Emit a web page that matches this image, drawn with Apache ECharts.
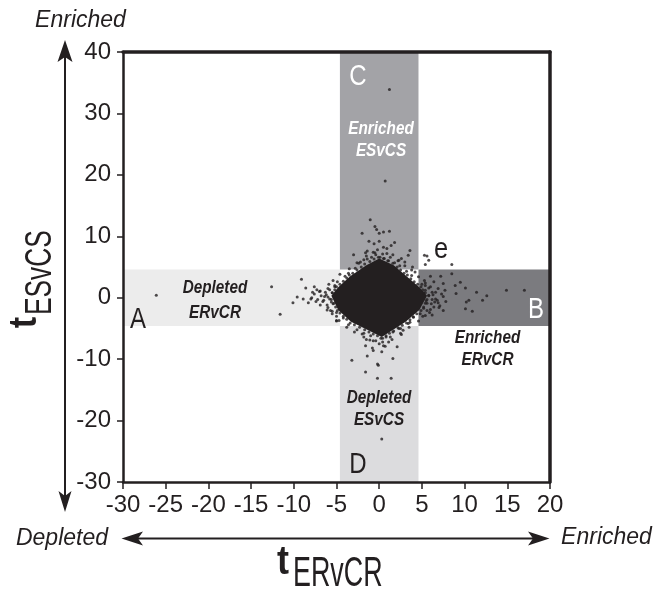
<!DOCTYPE html>
<html>
<head>
<meta charset="utf-8">
<script src="https://cdn.jsdelivr.net/npm/echarts@6/dist/echarts.min.js"></script>
<style>
  html, body { margin: 0; padding: 0; background: #fff; }
  #chart { width: 656px; height: 591px; }
</style>
</head>
<body>
<div id="chart"></div>
<script>
// axis ranges and ticks
const xRange = [-30, 20];
const yRange = [-30, 40];
const xStep = 5;
const yStep = 10;

// significance cut-off used for the shaded bands
const cut = 4.6;
// [xFrom, xTo, yFrom, yTo] for bands A, B, C, D
const bandA = [-30, -cut, -cut, cut];
const bandB = [cut, 20, -cut, cut];
const bandC = [-cut, cut, cut, 40];
const bandD = [-cut, cut, -30, -cut];
const bandColors = ['#ececec', '#7b7b7f', '#a3a3a7', '#dcdcde'];

// outline of the dense (saturated) cloud of points around the origin
const coreOutline = [
  [-5.6, 0.3], [-4.8, 1.7], [-3.4, 3.5], [-1.5, 5.3], [0, 6.4], [1.7, 5.3],
  [3.2, 3.5], [4.7, 1.7], [5.6, 0.3], [4.7, -2.0], [3.1, -3.9], [1.4, -5.4],
  [0.3, -6.4], [-1.1, -5.4], [-3.3, -3.9], [-4.8, -2.0]
];

// single genes
const leftPoints = [
  [-26.1, 0.4], [-12.6, 1.8], [-11.6, -2.7], [-10.1, -0.8], [-9.6, 0.1], [-9.1, 3.0],
  [-8.9, -0.2], [-8.6, 1.6], [-8.3, -0.8], [-7.9, 0], [-7.3, 1.3], [-6.1, -2.0],
  [-5.5, -2.2], [-5.0, -3.0], [-5.2, 2.0], [-5.0, -3.7], [-5.7, -2.1],
  [-7.0, 1.0], [-6.8, 0.3], [-6.5, -0.4], [-6.3, 0.9], [-6.0, 0.1], [-5.8, 1.3],
  [-5.6, -0.7], [-7.4, -0.6], [-6.9, -1.2], [-5.9, 2.2], [-7.6, 1.8], [-8.0, -0.2], [-7.8, 0.9]
];
const upPoints = [
  [1.2, 33.9], [0.7, 19.0], [-1.05, 12.7], [-2.0, 10.5], [-0.5, 11.6], [-0.3, 11.1],
  [0, 10.5], [0.5, 10.7], [1.2, 10.8], [1.8, 9.0], [1.4, 8.5], [-3.0, 7.0], [-1.2, 9.2],
  [-0.6, 8.8], [0, 9.2], [0.5, 8.2], [-1.6, 7.3], [-0.7, 7.4], [3.6, 7.7], [3.4, 6.9],
  [3.0, 5.8], [2.3, 6.1], [0.9, 7.2], [0.1, 6.6], [-1.4, 6.3], [-2.2, 5.8],
  [5.3, 6.9], [5.6, 6.8], [5.8, 6.1], [5.4, 5.4]
];
const rightPoints = [
  [14.9, 1.2], [17.0, 1.2], [12.6, 0.3], [12.1, -0.4], [11.4, 0.9], [10.9, -2.2],
  [10.1, -1.8], [10.5, -0.4], [10.2, -0.7], [10.1, 1.6], [9.5, 2.5], [8.5, 3.9],
  [8.5, 5.4], [8.9, 2.0], [9.0, 0.7], [7.5, 2.3], [7.2, 3.5], [6.0, 3.5], [7.5, 0.2],
  [7.1, -1.3], [7.7, 1.2], [7.5, -2.1], [5.6, -2.1], [6.4, -1.5], [6.8, -0.4],
  [5.2, 0.8], [5.5, -0.5], [5.8, 1.6], [6.1, -1.0], [6.3, 0.5], [6.6, -0.2], [5.4, 2.4],
  [5.9, -2.4], [6.9, 1.5], [7.3, 0.6], [7.8, -0.6], [6.2, -2.8], [5.1, -3.0], [7.0, -1.6]
];
const downPoints = [
  [-3.2, -10.2], [-1.4, -9.5], [-0.1, -11.0], [1.6, -9.9], [-1.6, -12.1], [-0.2, -13.1],
  [1.4, -13.1], [2.1, -8.0], [-0.7, -8.6], [0.3, -8.8], [0.7, -7.9], [-1.6, -7.8],
  [-1.1, -6.9], [-2.0, -5.9], [1.3, -6.4], [2.5, -5.0], [2.8, -5.3], [0, -7.5],
  [-5.0, -3.8], [3.6, -4.0], [0.3, -23.0], [-0.2, -10.8]
];
// loose points hugging the dense core
const edgePoints = [
  [-2.4, 5.6], [-1.8, 6.2], [-0.9, 6.6], [-0.4, 7.0], [0.6, 6.4], [1.1, 6.0], [1.8, 5.7],
  [2.4, 5.2], [-2.8, 4.8], [3.2, 4.3], [-3.6, 4.0], [3.8, 3.6], [2.6, 6.4], [-0.2, 7.8],
  [0.9, 8.0], [-1.4, 7.6], [1.6, 7.0], [3.9, 5.0], [4.2, 4.2], [-4.0, 3.5],
  [5.4, 1.2], [5.8, 0.4], [6.2, -0.3], [5.6, -0.9], [5.2, -1.7], [6.6, 0.9], [5.0, 2.2],
  [4.8, -2.6], [6.0, 1.8], [6.9, -0.8], [5.3, 2.8], [6.4, 2.6],
  [-5.5, 0.8], [-5.8, -0.2], [-5.4, -1.0], [-6.2, 0.5], [-6.6, -0.6], [-5.2, 1.8],
  [-5.0, -2.4], [-6.9, 1.1], [-7.2, -0.3], [-4.9, 2.6], [-6.0, -1.6], [-7.6, 0.6],
  [-2.6, -5.2], [-1.8, -5.8], [-1.0, -6.2], [0.2, -6.6], [0.8, -6.4], [1.6, -5.6],
  [2.3, -5.0], [3.4, -4.2], [-3.6, -4.4], [-0.4, -7.0], [1.1, -7.2], [-1.5, -6.8],
  [0.5, -7.8], [4.0, -3.2], [-4.2, -3.3], [2.6, -6.0], [-0.8, -8.2]
];
// points sitting right on the rim of the core, so its edge looks ragged
const rimPoints = [
  [-5.5, 0.8], [-5.2, 1.3], [-5.0, 1.8], [-4.6, 2.2], [-4.2, 2.7], [-3.8, 3.2], [-3.5, 3.7],
  [-3.1, 4.0], [-2.6, 4.5], [-2.1, 5.0], [-1.7, 5.5], [-1.1, 5.9], [-0.6, 6.3], [-0.1, 6.6],
  [0.5, 6.4], [1.0, 6.0], [1.6, 5.6], [2.1, 5.0], [2.5, 4.5], [2.9, 4.0], [3.3, 3.7],
  [3.7, 3.1], [4.1, 2.6], [4.5, 2.2], [4.9, 1.8], [5.1, 1.3], [5.4, 0.8], [5.8, 0.3],
  [5.6, -0.3], [5.4, -0.9], [5.2, -1.5], [4.9, -2.1], [4.4, -2.6], [4.0, -3.1], [3.6, -3.6],
  [3.2, -4.1], [2.7, -4.5], [2.2, -4.9], [1.7, -5.4], [1.2, -5.8], [0.8, -6.2], [0.4, -6.6],
  [-0.2, -6.2], [-0.7, -5.9], [-1.2, -5.6], [-1.7, -5.2], [-2.3, -4.8], [-2.9, -4.4],
  [-3.4, -4.1], [-3.8, -3.5], [-4.2, -3.0], [-4.6, -2.5], [-4.9, -2.1], [-5.1, -1.5],
  [-5.3, -0.9], [-5.6, -0.3]
];
// second, looser ring just outside the rim
const ringPoints = [
  [-6.0, 1.5], [-5.4, 2.8], [-4.6, 3.8], [-3.5, 4.7], [-2.6, 5.7], [-1.5, 6.8], [-0.5, 7.3],
  [0.4, 7.1], [1.3, 6.6], [2.2, 6.0], [3.0, 5.2], [3.8, 4.5], [4.6, 3.4], [5.4, 2.0],
  [6.2, 0.9], [6.5, -0.7], [6.0, -1.9], [5.4, -2.9], [4.6, -3.8], [3.5, -4.8], [2.5, -5.8],
  [1.5, -6.8], [0.4, -7.2], [-0.7, -7.0], [-1.8, -6.4], [-2.9, -5.6], [-3.8, -4.8],
  [-4.7, -3.7], [-5.5, -2.6], [-6.1, -1.2], [-6.4, 0.2]
];

const ink = '#231f20';
const font = 'Liberation Sans, Arial, Helvetica, sans-serif';
const chart = echarts.init(document.getElementById('chart'));

function txt(x, y, text, o) {
  o = o || {};
  return {
    type: 'text', x: x, y: y, rotation: o.rotation || 0,
    scaleX: o.scaleX || 1, z: 50,
    style: {
      text: text, fill: o.color || ink, align: o.align || 'center', verticalAlign: 'middle',
      font: (o.style || '') + ' ' + (o.weight || 'normal') + ' ' + (o.size || 20) + 'px ' + font,
      lineHeight: o.lh || undefined
    }
  };
}
function poly(pts) {
  return { type: 'polygon', shape: { points: pts }, style: { fill: ink }, z: 50 };
}
function line(x1, y1, x2, y2) {
  return { type: 'line', shape: { x1: x1, y1: y1, x2: x2, y2: y2 }, style: { stroke: ink, lineWidth: 2 }, z: 50 };
}

const axisCommon = {
  type: 'value', z: 5,
  splitLine: { show: false },
  axisLine: { show: true, onZero: false, lineStyle: { color: ink, width: 2.5 } }
};

chart.setOption({
  animation: false,
  backgroundColor: '#fff',
  grid: { left: 123, right: 106, top: 52, bottom: 109 },
  xAxis: [
    Object.assign({}, axisCommon, {
      min: xRange[0], max: xRange[1], interval: xStep, position: 'bottom',
      axisTick: { show: true, inside: false, length: 7, lineStyle: { color: ink, width: 1.5 } },
      axisLabel: { fontSize: 24, color: ink, margin: 11, fontFamily: font }
    }),
    Object.assign({}, axisCommon, {
      min: xRange[0], max: xRange[1], position: 'top',
      axisTick: { show: false }, axisLabel: { show: false },
      axisLine: { show: true, onZero: false, lineStyle: { color: ink, width: 3.5 } }
    })
  ],
  yAxis: [
    Object.assign({}, axisCommon, {
      min: yRange[0], max: yRange[1], interval: yStep, position: 'left',
      axisTick: { show: true, inside: false, length: 6, lineStyle: { color: ink, width: 1.5 } },
      axisLabel: { fontSize: 24, color: ink, margin: 12, fontFamily: font }
    }),
    Object.assign({}, axisCommon, {
      min: yRange[0], max: yRange[1], position: 'right',
      axisTick: { show: false }, axisLabel: { show: false },
      axisLine: { show: true, onZero: false, lineStyle: { color: ink, width: 3.5 } }
    })
  ],
  series: [
    {
      type: 'custom', z: 1, silent: true,
      data: [bandA, bandB, bandC, bandD],
      renderItem: function (params, api) {
        const p0 = api.coord([api.value(0), api.value(3)]);
        const p1 = api.coord([api.value(1), api.value(2)]);
        return {
          type: 'rect',
          shape: { x: p0[0], y: p0[1], width: p1[0] - p0[0], height: p1[1] - p0[1] },
          style: { fill: bandColors[params.dataIndex] }
        };
      }
    },
    {
      type: 'custom', z: 3, silent: true,
      data: [[0, 0]],
      renderItem: function (params, api) {
        return {
          type: 'polygon',
          shape: { points: coreOutline.map(function (p) { return api.coord(p); }) },
          style: { fill: ink }
        };
      }
    },
    {
      type: 'scatter', z: 3, silent: true,
      symbolSize: 3,
      itemStyle: { color: ink },
      data: leftPoints.concat(upPoints, rightPoints, downPoints, edgePoints, rimPoints, ringPoints)
    }
  ],
  graphic: [
    // axis direction arrows
    line(65, 55, 65, 497),
    poly([[65, 40], [57.5, 62], [65, 57], [72.5, 62]]),
    poly([[65, 512], [58.5, 491], [65, 496], [71.5, 491]]),
    line(136, 538.5, 535, 538.5),
    poly([[121.5, 538.5], [143, 531.5], [138, 538.5], [143, 545.5]]),
    poly([[549.5, 538.5], [528, 531.5], [533, 538.5], [528, 545.5]]),
    txt(80.5, 21, 'Enriched', { style: 'italic', size: 23 }),
    txt(62, 539, 'Depleted', { style: 'italic', size: 23 }),
    txt(606.5, 538, 'Enriched', { style: 'italic', size: 23 }),
    // axis titles
    txt(283, 563, 't', { weight: 'bold', size: 40, scaleX: 0.9 }),
    txt(293, 574, 'ERvCR', { align: 'left', size: 42, scaleX: 0.64 }),
    txt(26, 322.5, 't', { weight: 'bold', size: 38, scaleX: 0.9, rotation: Math.PI / 2 }),
    txt(41, 315, 'ESvCS', { align: 'left', size: 36, scaleX: 0.73, rotation: Math.PI / 2 }),
    // band letters
    txt(138, 320, 'A', { size: 30, scaleX: 0.8 }),
    txt(536, 310, 'B', { size: 30, scaleX: 0.8, color: '#fff' }),
    txt(358, 77, 'C', { size: 30, scaleX: 0.8, color: '#fff' }),
    txt(358, 465, 'D', { size: 30, scaleX: 0.8 }),
    txt(441, 250, 'e', { size: 30, scaleX: 0.85 }),
    // band descriptions
    txt(215, 301, 'Depleted\nERvCR', { style: 'italic', weight: 'bold', size: 18, scaleX: 0.85, lh: 25 }),
    txt(381, 140, 'Enriched\nESvCS', { style: 'italic', weight: 'bold', size: 18, scaleX: 0.85, lh: 22, color: '#fff' }),
    txt(487.5, 349, 'Enriched\nERvCR', { style: 'italic', weight: 'bold', size: 18, scaleX: 0.85, lh: 22 }),
    txt(379, 409, 'Depleted\nESvCS', { style: 'italic', weight: 'bold', size: 18, scaleX: 0.85, lh: 22 })
  ]
});
</script>
</body>
</html>
